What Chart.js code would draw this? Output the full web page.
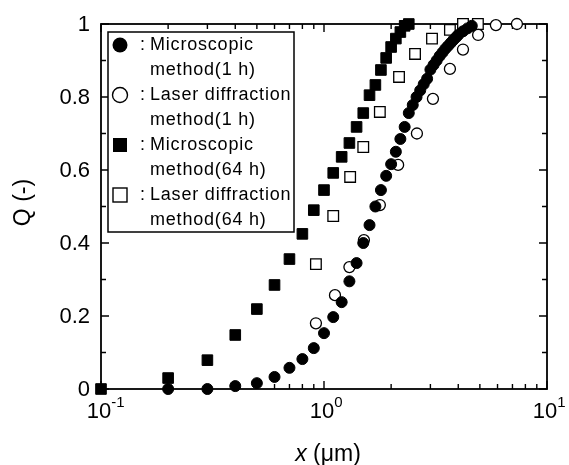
<!DOCTYPE html>
<html>
<head>
<meta charset="utf-8">
<script src="https://cdn.jsdelivr.net/npm/chart.js@4.4.1/dist/chart.umd.min.js"></script>
<style>
html,body{margin:0;padding:0;background:#fff;}
#wrap{width:569px;height:465px;}
</style>
</head>
<body>
<div id="wrap"><canvas id="c" width="569" height="465"></canvas></div>
<script>
// ---- data ----
const xMicro1h = [0.2,0.3,0.4,0.5,0.6,0.7,0.8,0.9,1.0,1.1,1.2,1.3,1.4,1.5,1.6,1.7,1.8,1.9,2.0,2.1,2.2,2.3,2.4,2.5,2.6,2.7,2.8,2.9,3.0,3.1,3.2,3.3,3.4,3.5,3.6,3.7,3.8,3.9,4.0,4.2,4.4,4.6];
const qMicro1h = [0,0,0.008,0.016,0.033,0.058,0.082,0.112,0.153,0.197,0.238,0.295,0.345,0.40,0.449,0.50,0.545,0.584,0.616,0.65,0.685,0.718,0.756,0.778,0.80,0.818,0.835,0.85,0.875,0.888,0.90,0.912,0.922,0.932,0.94,0.948,0.956,0.963,0.97,0.98,0.988,0.995];

const xLaser1h = [0.92,1.12,1.3,1.51,1.78,2.15,2.61,3.08,3.67,4.2,4.91,5.9,7.33];
const qLaser1h = [0.18,0.257,0.334,0.408,0.504,0.614,0.70,0.795,0.877,0.93,0.97,0.997,1.0];

const xMicro64h = [0.1,0.2,0.3,0.4,0.5,0.6,0.7,0.8,0.9,1.0,1.1,1.2,1.3,1.4,1.5,1.6,1.7,1.8,1.9,2.0,2.1,2.2,2.3,2.4];
const qMicro64h = [0,0.03,0.079,0.148,0.219,0.285,0.356,0.425,0.49,0.545,0.592,0.636,0.674,0.718,0.756,0.805,0.833,0.874,0.907,0.937,0.96,0.978,0.995,1.0];

const xLaser64h = [0.92,1.1,1.31,1.5,1.78,2.17,2.56,3.05,3.67,4.2,4.9];
const qLaser64h = [0.342,0.474,0.581,0.663,0.759,0.855,0.918,0.96,0.984,1.0,1.0];

const yTickValues = [0,0.2,0.4,0.6,0.8,1];
const yTickLabels = ['0','0.2','0.4','0.6','0.8','1'];
const yMinorValues = [0.1,0.3,0.5,0.7,0.9];
const xDecadeExponents = [-1,0,1];
const xMinorMultipliers = [2,3,4,5,6,7,8,9];

const legendLines = [
  ['filledCircle','Microscopic'],[null,'method(1 h)'],
  ['openCircle','Laser diffraction'],[null,'method(1 h)'],
  ['filledSquare','Microscopic'],[null,'method(64 h)'],
  ['openSquare','Laser diffraction'],[null,'method(64 h)']
];
const xTitleItalic = 'x';
const xTitleRest = ' (\u03bcm)';
const yTitle = 'Q (-)';

function pts(xs, qs){ return xs.map((x,i)=>({x:x, y:qs[i]})); }

const FONT = '"Liberation Sans", Arial, Helvetica, sans-serif';

const axesPlugin = {
  id: 'axesPlugin',
  beforeDatasetsDraw(chart){
    const ctx = chart.ctx, a = chart.chartArea;
    const xs = chart.scales.x, ys = chart.scales.y;
    ctx.save();
    ctx.strokeStyle = '#000';
    ctx.lineWidth = 1.8;
    ctx.strokeRect(a.left, a.top, a.right - a.left, a.bottom - a.top);
    ctx.lineWidth = 1.4;
    ctx.beginPath();
    const major = 8, minor = 5;
    yTickValues.forEach(v=>{
      const y = ys.getPixelForValue(v);
      ctx.moveTo(a.left, y); ctx.lineTo(a.left + major, y);
      ctx.moveTo(a.right, y); ctx.lineTo(a.right - major, y);
    });
    yMinorValues.forEach(v=>{
      const y = ys.getPixelForValue(v);
      ctx.moveTo(a.left, y); ctx.lineTo(a.left + minor, y);
      ctx.moveTo(a.right, y); ctx.lineTo(a.right - minor, y);
    });
    xDecadeExponents.forEach(e=>{
      const x = xs.getPixelForValue(Math.pow(10,e));
      ctx.moveTo(x, a.bottom); ctx.lineTo(x, a.bottom - major);
      ctx.moveTo(x, a.top); ctx.lineTo(x, a.top + major);
      if (e < 1) {
        xMinorMultipliers.forEach(m=>{
          const xm = xs.getPixelForValue(m*Math.pow(10,e));
          ctx.moveTo(xm, a.bottom); ctx.lineTo(xm, a.bottom - minor);
          ctx.moveTo(xm, a.top); ctx.lineTo(xm, a.top + minor);
        });
      }
    });
    ctx.stroke();

    // y tick labels
    ctx.fillStyle = '#000';
    ctx.font = '22px ' + FONT;
    ctx.textAlign = 'right';
    ctx.textBaseline = 'middle';
    yTickValues.forEach((v,i)=>{
      ctx.fillText(yTickLabels[i], a.left - 11, ys.getPixelForValue(v) + 1);
    });
    // x tick labels 10^n
    xDecadeExponents.forEach(e=>{
      const x = xs.getPixelForValue(Math.pow(10,e));
      ctx.font = '22px ' + FONT;
      ctx.textAlign = 'center';
      ctx.textBaseline = 'alphabetic';
      const base = a.bottom + 29;
      ctx.fillText('10', x - 2, base);
      const w = ctx.measureText('10').width;
      ctx.font = '15px ' + FONT;
      ctx.textAlign = 'left';
      ctx.fillText(e < 0 ? '-' + (-e) : String(e), x - 2 + w/2, base - 11);
    });
    // x title
    ctx.font = 'italic 23px ' + FONT;
    const wI = ctx.measureText(xTitleItalic).width;
    ctx.font = '23px ' + FONT;
    const wR = ctx.measureText(xTitleRest).width;
    const cx = (a.left + a.right)/2 + 4;
    const startX = cx - (wI + wR)/2;
    ctx.textAlign = 'left';
    ctx.textBaseline = 'middle';
    ctx.font = 'italic 23px ' + FONT;
    ctx.fillText(xTitleItalic, startX, 455);
    ctx.font = '23px ' + FONT;
    ctx.fillText(xTitleRest, startX + wI, 455);
    // y title
    ctx.save();
    ctx.translate(24, (a.top + a.bottom)/2 - 4);
    ctx.rotate(-Math.PI/2);
    ctx.textAlign = 'center';
    ctx.textBaseline = 'middle';
    ctx.font = '23px ' + FONT;
    ctx.fillText(yTitle, 0, 0);
    ctx.restore();
    ctx.restore();
  },
  afterDraw(chart){
    const ctx = chart.ctx, a = chart.chartArea;
    ctx.save();
    const bx = a.left + 7, by = a.top + 8, bw = 186, bh = 200;
    ctx.fillStyle = '#fff';
    ctx.fillRect(bx, by, bw, bh);
    ctx.strokeStyle = '#000';
    ctx.lineWidth = 1.5;
    ctx.strokeRect(bx, by, bw, bh);
    ctx.fillStyle = '#000';
    ctx.font = '18px ' + FONT;
    ctx.textBaseline = 'middle';
    ctx.textAlign = 'left';
    try { ctx.letterSpacing = '0.8px'; } catch(e) {}
    const mx = bx + 12;
    legendLines.forEach((ln,i)=>{
      const y = by + 13 + i*25;
      const kind = ln[0];
      if (kind) {
        ctx.lineWidth = 1.4;
        if (kind === 'filledCircle' || kind === 'openCircle') {
          ctx.beginPath(); ctx.arc(mx, y, 7.5, 0, Math.PI*2);
          if (kind === 'filledCircle') { ctx.fill(); } else { ctx.stroke(); }
        } else {
          if (kind === 'filledSquare') ctx.fillRect(mx-7, y-7, 14, 14);
          else ctx.strokeRect(mx-7, y-7, 14, 14);
        }
        ctx.fillText(':', bx + 32, y);
      }
      ctx.fillText(ln[1], bx + 42, y);
    });
    ctx.restore();
  }
};

new Chart(document.getElementById('c'), {
  type: 'scatter',
  data: {
    datasets: [
      { label: 'Microscopic method(1 h)', data: pts(xMicro1h, qMicro1h), pointStyle: 'circle', pointRadius: 5.5, backgroundColor: '#000', borderColor: '#000', borderWidth: 1, clip: false },
      { label: 'Laser diffraction method(1 h)', data: pts(xLaser1h, qLaser1h), pointStyle: 'circle', pointRadius: 5.5, backgroundColor: '#fff', borderColor: '#000', borderWidth: 1.3, clip: false },
      { label: 'Microscopic method(64 h)', data: pts(xMicro64h, qMicro64h), pointStyle: 'rect', pointRadius: 7.5, backgroundColor: '#000', borderColor: '#000', borderWidth: 1, clip: false },
      { label: 'Laser diffraction method(64 h)', data: pts(xLaser64h, qLaser64h), pointStyle: 'rect', pointRadius: 7.5, backgroundColor: '#fff', borderColor: '#000', borderWidth: 1.3, clip: false }
    ]
  },
  options: {
    responsive: false,
    animation: false,
    layout: { padding: { left: 101, right: 22, top: 24, bottom: 76 } },
    plugins: { legend: { display: false }, tooltip: { enabled: false } },
    scales: {
      x: { type: 'logarithmic', min: 0.1, max: 10, display: false },
      y: { type: 'linear', min: 0, max: 1, display: false }
    }
  },
  plugins: [axesPlugin]
});
</script>
</body>
</html>
